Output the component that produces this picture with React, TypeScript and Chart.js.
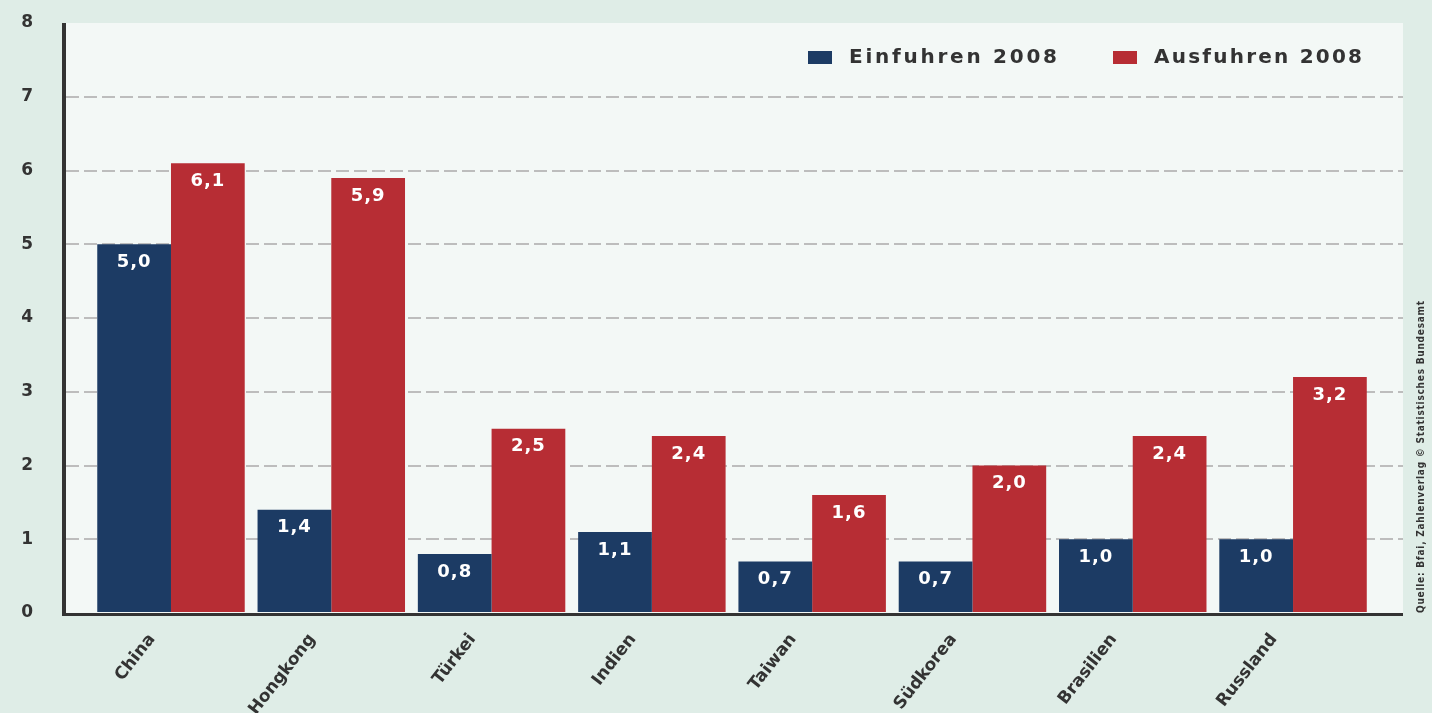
import React, { useEffect, useRef } from "react";
import { Chart, registerables } from "chart.js";

Chart.register(...registerables);

const categories = ["China", "Hongkong", "Türkei", "Indien", "Taiwan", "Südkorea", "Brasilien", "Russland"];
const imports2008 = [5.0, 1.4, 0.8, 1.1, 0.7, 0.7, 1.0, 1.0];
const exports2008 = [6.1, 5.9, 2.5, 2.4, 1.6, 2.0, 2.4, 3.2];
const seriesNames = ["Einfuhren 2008", "Ausfuhren 2008"];
const yTicks = [0, 1, 2, 3, 4, 5, 6, 7, 8];
const sourceText = "Quelle: Bfai, Zahlenverlag © Statistisches Bundesamt";

const PAGE_BG = "#dfede7";
const PLOT_BG = "#f3f8f6";
const BLUE = "#1c3b64";
const RED = "#b72d34";
const TEXT = "#333333";

function spacedText(ctx: CanvasRenderingContext2D, text: string, x: number, y: number, target: number) {
  (ctx as any).letterSpacing = "0px";
  const w = ctx.measureText(text).width;
  const sp = Math.max(0, (target - w) / Math.max(1, text.length - 1));
  (ctx as any).letterSpacing = sp + "px";
  ctx.fillText(text, x, y);
  (ctx as any).letterSpacing = "0px";
}

const decorPlugin = {
  id: "decor",
  beforeDraw(chart: any) {
    const { ctx, chartArea: a, width, height } = chart;
    ctx.save();
    ctx.fillStyle = PAGE_BG;
    ctx.fillRect(0, 0, width, height);
    ctx.fillStyle = PLOT_BG;
    ctx.fillRect(a.left, a.top, a.right - a.left, a.bottom - a.top);
    ctx.restore();
  },
  afterDatasetsDraw(chart: any) {
    const { ctx, chartArea: a } = chart;
    ctx.save();
    // axis lines
    ctx.fillStyle = "#333333";
    ctx.fillRect(a.left - 4, a.top, 4, a.bottom - a.top + 3);
    ctx.fillRect(a.left - 4, a.bottom, a.right - a.left + 4, 3);

    // value labels
    ctx.fillStyle = "#ffffff";
    ctx.font = "bold 18px 'DejaVu Sans'";
    ctx.textAlign = "center";
    ctx.textBaseline = "middle";
    chart.data.datasets.forEach((ds: any, di: number) => {
      const meta = chart.getDatasetMeta(di);
      meta.data.forEach((el: any, i: number) => {
        const v = ds.data[i].y;
        const t = v.toFixed(1).replace(".", ",");
        (ctx as any).letterSpacing = "1px";
        ctx.fillText(t, el.x, el.y + 18);
      });
    });
    (ctx as any).letterSpacing = "0px";

    // legend
    const items = [
      { name: seriesNames[0], color: BLUE, box: 808, tx: 849 },
      { name: seriesNames[1], color: RED, box: 1113, tx: 1154 },
    ];
    ctx.font = "bold 20px 'DejaVu Sans'";
    ctx.textAlign = "left";
    ctx.textBaseline = "middle";
    items.forEach((it) => {
      ctx.fillStyle = it.color;
      ctx.fillRect(it.box, 51, 24, 13);
      ctx.fillStyle = TEXT;
      spacedText(ctx, it.name, it.tx, 58, 208);
    });

    // source note
    ctx.translate(1421, 613);
    ctx.rotate(-Math.PI / 2);
    ctx.font = "bold 10px 'DejaVu Sans Condensed'";
    ctx.fillStyle = TEXT;
    ctx.textAlign = "left";
    ctx.textBaseline = "middle";
    spacedText(ctx, sourceText, 0, 0, 312);
    ctx.restore();
  },
};

export default function App() {
  const ref = useRef<HTMLCanvasElement>(null);
  useEffect(() => {
    document.body.style.margin = "0";
    document.body.style.background = PAGE_BG;
    const chart = new Chart(ref.current!, {
      type: "bar",
      data: {
        datasets: [
          {
            label: seriesNames[0],
            data: categories.map((_, i) => ({ x: i, y: imports2008[i] })),
            backgroundColor: BLUE,
            borderWidth: 0,
          },
          {
            label: seriesNames[1],
            data: categories.map((_, i) => ({ x: i, y: exports2008[i] })),
            backgroundColor: RED,
            borderWidth: 0,
          },
        ],
      },
      options: {
        animation: false,
        responsive: false,
        devicePixelRatio: 1,
        layout: { padding: { top: 23, right: 29, left: 0, bottom: 0 } },
        datasets: { bar: { categoryPercentage: 0.92, barPercentage: 1.0 } },
        plugins: { legend: { display: false }, tooltip: { enabled: false } },
        scales: {
          x: {
            type: "linear",
            offset: false,
            min: -0.655,
            max: 7.686,
            afterFit: (s: any) => { s.height = 100; s.paddingLeft = 0; s.paddingRight = 0; },
            grid: { display: false, drawTicks: false, offset: false },
            border: { display: false },
            ticks: {
              stepSize: 1,
              includeBounds: false,
              autoSkip: false,
              maxRotation: 52,
              minRotation: 52,
              labelOffset: -19,
              padding: 17,
              color: TEXT,
              font: { family: "'DejaVu Sans'", weight: "bold", size: 17 },
              callback: (v: any) => (Number.isInteger(v) && categories[v] ? categories[v] : ""),
            },
          },
          y: {
            min: yTicks[0],
            max: yTicks[yTicks.length - 1],
            afterFit: (s: any) => { s.width = 66; s.paddingTop = 0; s.paddingBottom = 0; },
            afterBuildTicks: (s: any) => { s.ticks = yTicks.map((v) => ({ value: v })); },
            grid: {
              drawTicks: false,
              lineWidth: 2,
              color: (c: any) => (c.tick && (c.tick.value === 0 || c.tick.value === 8) ? "rgba(0,0,0,0)" : "#bdbdbd"),
            },
            border: { display: false, dash: [13, 5] },
            ticks: {
              padding: 33,
              color: TEXT,
              font: { family: "'DejaVu Sans'", weight: "bold", size: 17 },
              callback: (v: any) => String(v),
            },
          },
        },
      },
      plugins: [decorPlugin],
    } as any);
    return () => chart.destroy();
  }, []);
  return (
    <div style={{ width: 1432, height: 713, overflow: "hidden", background: PAGE_BG }}>
      <canvas ref={ref} width={1432} height={713} style={{ display: "block" }} />
    </div>
  );
}
